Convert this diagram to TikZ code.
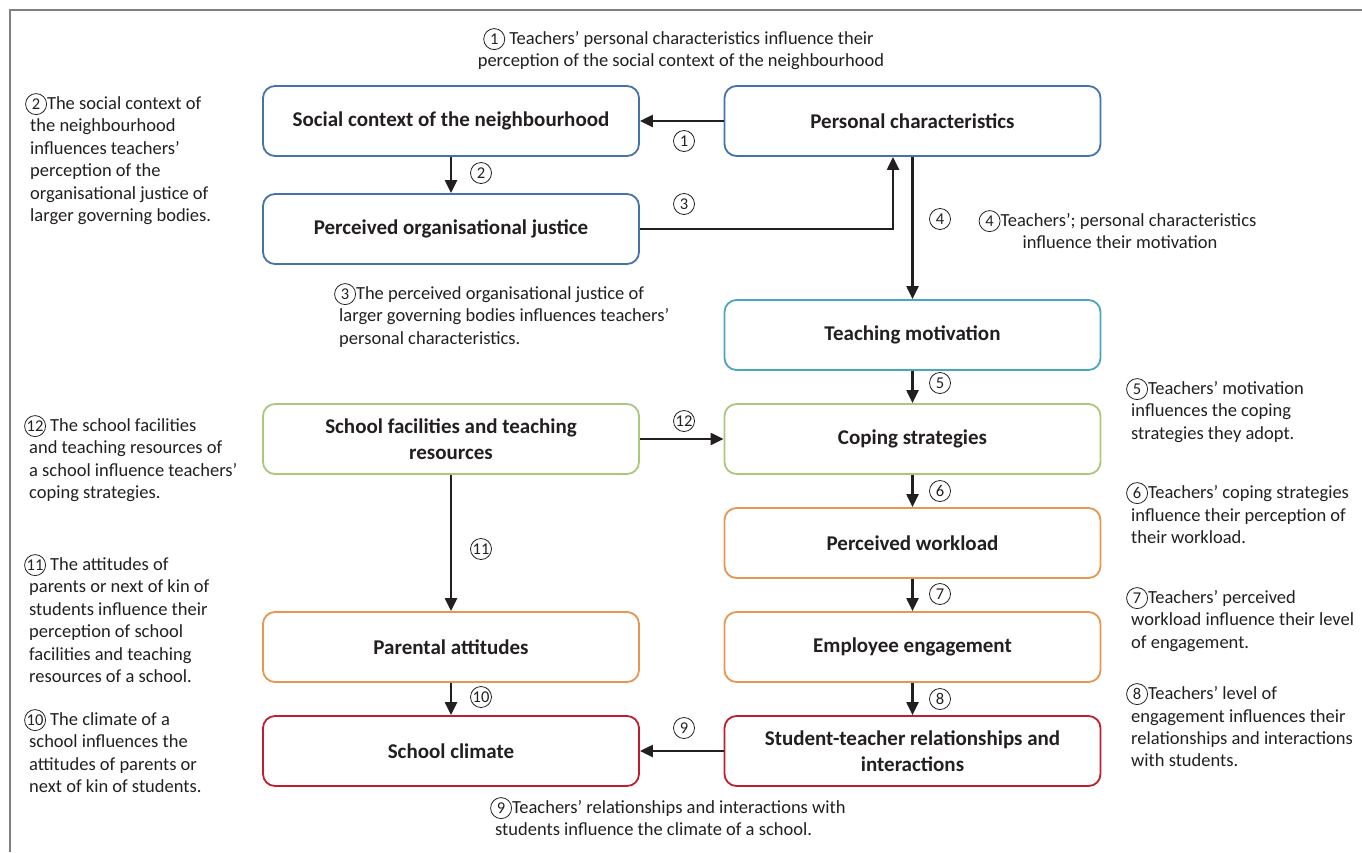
\documentclass[tikz,border=0pt]{standalone}
\usepackage{fontspec}
\setmainfont{Carlito}
\usetikzlibrary{arrows.meta}
\definecolor{ink}{RGB}{35,31,32}
\definecolor{boxblue}{RGB}{68,114,170}
\definecolor{boxteal}{RGB}{75,165,190}
\definecolor{boxgreen}{RGB}{170,200,125}
\definecolor{boxorange}{RGB}{230,150,80}
\definecolor{boxred}{RGB}{190,30,45}
\definecolor{framegray}{RGB}{128,128,128}
\tikzset{circnum/.style={circle, draw=ink, line width=0.8pt, inner sep=0pt, minimum size=21pt, anchor=center, text=ink, font=\fontsize{16.5}{16.5}\selectfont}}
\newcommand{\cnum}[1]{\kern-5pt\tikz[baseline=(cn.base)]\node[circnum](cn){#1};}
\begin{document}
\begin{tikzpicture}[
        x=1pt, y=-1pt,
        box/.style={rectangle, draw, line width=1.8pt, rounded corners=12pt, minimum width=376pt, minimum height=70pt, align=center, text=ink, font=\fontsize{21}{26}\selectfont\bfseries},
        desc/.style={anchor=north west, align=left, inner sep=0pt, text=ink, font=\fontsize{18.5}{22.4}\selectfont},
        arrow/.style={-{Triangle[length=13pt,width=12pt]}, line width=2.2pt, draw=ink}
    ]
        \useasboundingbox (0,0) rectangle (1362,852);
        \draw[framegray, line width=1.5pt] (1362,10) -| (10,852);

        \node[box, draw=boxblue] (social) at (451,121) {Social context of the neighbourhood};
        \node[box, draw=boxblue] (personal) at (912.5,121) {Personal characteristics};
        \node[box, draw=boxblue] (justice) at (451,229) {Perceived organisational justice};
        \node[box, draw=boxteal] (motivation) at (912.5,335) {Teaching motivation};
        \node[box, draw=boxgreen] (facilities) at (451,439) {School facilities and teaching\\resources};
        \node[box, draw=boxgreen] (coping) at (912.5,439) {Coping strategies};
        \node[box, draw=boxorange] (workload) at (912.5,543) {Perceived workload};
        \node[box, draw=boxorange] (parental) at (451,647) {Parental attitudes};
        \node[box, draw=boxorange] (engagement) at (912.5,647) {Employee engagement};
        \node[box, draw=boxred] (climate) at (451,751) {School climate};
        \node[box, draw=boxred] (relations) at (912.5,751) {Student-teacher relationships and\\interactions};

        \draw[arrow] (personal) -- (social);
        \draw[arrow] (social) -- (justice);
        \draw[arrow] (justice.east) -| ([xshift=-19.5pt]personal.south);
        \draw[arrow] (personal) -- (motivation);
        \draw[arrow] (motivation) -- (coping);
        \draw[arrow] (facilities) -- (coping);
        \draw[arrow] (coping) -- (workload);
        \draw[arrow] (workload) -- (engagement);
        \draw[arrow] (engagement) -- (relations);
        \draw[arrow] (relations) -- (climate);
        \draw[arrow] (facilities) -- (parental);
        \draw[arrow] (parental) -- (climate);

        \node[circnum] (n1) at (684,141) {1};
        \node[circnum] (n2) at (481,173) {2};
        \node[circnum] (n3) at (684,204) {3};
        \node[circnum] (n4) at (940,219) {4};
        \node[circnum] (n5) at (940,383) {5};
        \node[circnum] (n6) at (940,491) {6};
        \node[circnum] (n7) at (940,594) {7};
        \node[circnum] (n8) at (940,699) {8};
        \node[circnum] (n9) at (684,728) {9};
        \node[circnum] (n10) at (481,697) {10};
        \node[circnum] (n11) at (481,549) {11};
        \node[circnum] (n12) at (684,421) {12};

        \node[desc, anchor=north, align=center] (d1) at (681,28) {\cnum{1} Teachers’ personal characteristics influence their\\perception of the social context of the neighbourhood};
        \node[desc] (d2) at (30,93) {\cnum{2}The social context of\\the neighbourhood\\influences teachers’\\perception of the\\organisational justice of\\larger governing bodies.};
        \node[desc] (d3) at (339,283) {\cnum{3}The perceived organisational justice of\\larger governing bodies influences teachers’\\personal characteristics.};
        \node[desc, anchor=north, align=center] (d4) at (1120,210) {\cnum{4}Teachers’; personal characteristics\\influence their motivation};
        \node[desc] (d5) at (1131,378) {\cnum{5}Teachers’ motivation\\influences the coping\\strategies they adopt.};
        \node[desc] (d6) at (1131,482) {\cnum{6}Teachers’ coping strategies\\influence their perception of\\their workload.};
        \node[desc] (d7) at (1131,587) {\cnum{7}Teachers’ perceived\\workload influence their level\\of engagement.};
        \node[desc] (d8) at (1131,683) {\cnum{8}Teachers’ level of\\engagement influences their\\relationships and interactions\\with students.};
        \node[desc] (d9) at (495,797) {\cnum{9}Teachers’ relationships and interactions with\\students influence the climate of a school.};
        \node[desc] (d10) at (29,709) {\cnum{10} The climate of a\\school influences the\\attitudes of parents or\\next of kin of students.};
        \node[desc] (d11) at (29,554) {\cnum{11} The attitudes of\\parents or next of kin of\\students influence their\\perception of school\\facilities and teaching\\resources of a school.};
        \node[desc] (d12) at (29,415) {\cnum{12} The school facilities\\and teaching resources of\\a school influence teachers’\\coping strategies.};
    \end{tikzpicture}
\end{document}
